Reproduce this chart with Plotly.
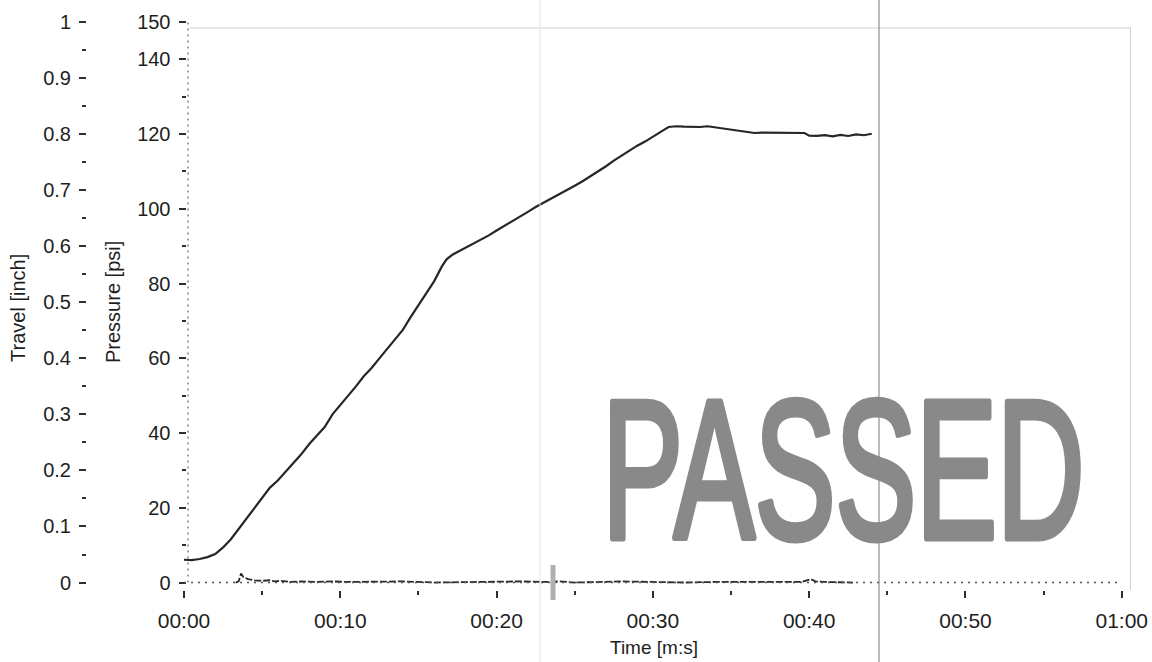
import plotly.graph_objects as go

# ---------------- data ----------------
time_s = [0.0, 0.5, 1.0, 1.5, 2.0, 2.5, 3.0, 3.5, 4.0, 4.5, 5.0, 5.5, 6.0, 6.5, 7.0,
          7.5, 8.0, 8.5, 9.0, 9.5, 10.0, 10.5, 11.0, 11.5, 12.0, 12.5, 13.0, 13.5,
          14.0, 14.5, 15.0, 15.5, 16.0, 16.5, 16.8, 17.2, 17.7, 18.5, 19.0, 19.5,
          20.0, 20.5, 21.0, 21.5, 22.0, 22.5, 23.0, 23.5, 24.0, 24.5, 25.0, 25.5,
          26.0, 26.5, 27.0, 27.5, 28.0, 28.5, 29.0, 29.5, 30.0, 30.5, 31.0, 31.5,
          32.0, 33.0, 33.5, 34.0, 34.5, 35.0, 35.5, 36.0, 36.5, 37.0, 38.0, 39.0,
          39.7, 40.0, 40.5, 41.0, 41.5, 42.0, 42.5, 43.0, 43.5, 44.0]
pressure_psi = [6.1, 6.0, 6.3, 6.8, 7.6, 9.4, 11.6, 14.4, 17.2, 19.8, 22.6, 25.4, 27.3,
                29.6, 31.8, 34.3, 37.0, 39.4, 41.6, 45.0, 47.4, 49.8, 52.5, 55.2, 57.4,
                60.0, 62.5, 64.8, 67.6, 71.0, 74.2, 77.4, 80.6, 84.6, 86.5, 87.8, 88.9,
                90.6, 91.7, 92.9, 94.2, 95.4, 96.6, 98.0, 99.2, 100.5, 101.6, 102.7,
                103.8, 104.9, 106.2, 107.4, 108.7, 109.9, 111.4, 112.9, 114.3, 115.6,
                116.9, 118.0, 119.2, 120.6, 121.9, 122.1, 122.0, 121.9, 122.1, 121.8,
                121.6, 121.4, 120.9, 120.6, 120.3, 120.4, 120.3, 120.4, 120.3, 119.6,
                119.5, 119.7, 119.4, 119.8, 119.5, 119.9, 119.7, 120.1]

travel_time_s = [3.3, 3.5, 3.65, 3.8, 4.1, 4.5, 5.0, 5.5, 5.8, 6.2, 6.8, 7.5, 8.5, 9.5,
                 10.5, 12.0, 14.0, 16.0, 18.0, 20.0, 21.5, 23.0, 24.0, 25.0, 26.5, 28.0,
                 30.0, 32.0, 34.0, 36.0, 38.0, 39.5, 40.1, 40.4, 41.0, 42.0, 42.8]
travel_inch = [0.0, 0.002, 0.016, 0.010, 0.006, 0.004, 0.003, 0.004, 0.002, 0.003, 0.001,
               0.002, 0.001, 0.002, 0.001, 0.001, 0.002, 0.0, 0.001, 0.001, 0.002, 0.001,
               0.002, 0.0, 0.001, 0.002, 0.001, 0.0, 0.001, 0.001, 0.0, 0.001, 0.006,
               0.002, 0.001, 0.001, 0.0]

x_tick_vals = [0, 10, 20, 30, 40, 50, 60]
x_tick_text = ["00:00", "00:10", "00:20", "00:30", "00:40", "00:50", "01:00"]
x_minor_vals = [5, 15, 25, 35, 45, 55]

p_tick_vals = [0, 20, 40, 60, 80, 100, 120, 140, 150]
p_minor_vals = [10, 30, 50, 70, 90, 110, 130]

t_tick_vals = [0, 0.1, 0.2, 0.3, 0.4, 0.5, 0.6, 0.7, 0.8, 0.9, 1.0]
t_tick_text = ["0", "0.1", "0.2", "0.3", "0.4", "0.5", "0.6", "0.7", "0.8", "0.9", "1"]
t_minor_vals = [0.05, 0.15, 0.25, 0.35, 0.45, 0.55, 0.65, 0.75, 0.85, 0.95]

stamp_text = "PASSED"

# ---------------- layout geometry ----------------
W, H = 1152, 662
ML, MR, MT, MB = 0, 21, 22, 72
PW = W - ML - MR
PH = H - MT - MB


def px_x(px):
    return (px - ML) / PW


def px_y(py):
    return (H - MB - py) / PH


P_RANGE = [-2, 150]
T_RANGE = [-2 / 150, 1]

FONT = "Liberation Sans, Arial, Helvetica, sans-serif"
INK = "#1e1e1e"
TICK = "#2e2e2e"
STAMP = "#898989"

fig = go.Figure()
fig.add_trace(go.Scatter(x=time_s, y=pressure_psi, mode="lines", yaxis="y",
                         line=dict(color="#262626", width=2.2), name="Pressure",
                         showlegend=False, hoverinfo="x+y"))
fig.add_trace(go.Scatter(x=travel_time_s, y=travel_inch, mode="lines", yaxis="y2",
                         line=dict(color="#2a2a2a", width=1.8, dash="7px,2px"),
                         name="Travel", showlegend=False, hoverinfo="x+y"))

fig.update_layout(
    width=W, height=H,
    margin=dict(l=ML, r=MR, t=MT, b=MB, autoexpand=False),
    paper_bgcolor="white", plot_bgcolor="white",
    font=dict(family=FONT, color=INK),
    xaxis=dict(domain=[px_x(180), 1], range=[-0.256, 60.59], anchor="y",
               automargin=False,
               tickvals=x_tick_vals, ticktext=x_tick_text,
               ticks="outside", ticklen=7, tickwidth=1.5, tickcolor=TICK,
               minor=dict(ticks="outside", ticklen=4, tickwidth=1.5, tickcolor=TICK,
                          tickvals=x_minor_vals),
               showline=False, showgrid=False, zeroline=False,
               tickfont=dict(size=21, color=INK), ticklabelstandoff=5),
    yaxis=dict(anchor="free", position=px_x(185.5), side="left", range=P_RANGE,
               automargin=False,
               tickvals=p_tick_vals, ticks="outside", ticklen=7, tickwidth=1.5,
               tickcolor=TICK,
               minor=dict(ticks="outside", ticklen=4, tickwidth=1.5, tickcolor=TICK,
                          tickvals=p_minor_vals),
               showline=False, showgrid=False, zeroline=False,
               tickfont=dict(size=20, color=INK), ticklabelstandoff=4),
    yaxis2=dict(anchor="free", overlaying="y", position=px_x(86), side="left",
                automargin=False,
                range=T_RANGE, tickvals=t_tick_vals, ticktext=t_tick_text,
                ticks="outside", ticklen=7, tickwidth=1.5, tickcolor=TICK,
                minor=dict(ticks="outside", ticklen=4, tickwidth=1.5, tickcolor=TICK,
                           tickvals=t_minor_vals),
                showline=False, showgrid=False, zeroline=False,
                tickfont=dict(size=20, color=INK), ticklabelstandoff=4),
)

shapes = [
    # dotted zero line of the time axis
    dict(type="line", xref="x", yref="y", x0=0, x1=60, y0=0, y1=0,
         line=dict(color="#555555", width=1.5, dash="2px,5px")),
    # dotted left border of the plot
    dict(type="line", xref="paper", yref="y", x0=px_x(188), x1=px_x(188), y0=0, y1=150,
         line=dict(color="#666666", width=1.2, dash="2px,4px")),
    # faint frame (top / right)
    dict(type="line", xref="paper", yref="paper", x0=px_x(190), x1=px_x(1131),
         y0=px_y(28), y1=px_y(28), line=dict(color="#cfcfcf", width=1)),
    dict(type="line", xref="paper", yref="paper", x0=px_x(1130.5), x1=px_x(1130.5),
         y0=px_y(28), y1=px_y(590), line=dict(color="#cfcfcf", width=1)),
    # scanner artefacts
    dict(type="line", xref="paper", yref="paper", x0=px_x(879), x1=px_x(879),
         y0=px_y(662), y1=px_y(0), line=dict(color="#777777", width=1)),
    dict(type="line", xref="paper", yref="paper", x0=px_x(540), x1=px_x(540),
         y0=px_y(662), y1=px_y(0), line=dict(color="#e2e2e2", width=1)),
    dict(type="line", xref="paper", yref="paper", x0=px_x(553), x1=px_x(553),
         y0=px_y(600), y1=px_y(565), line=dict(color="#b0b0b0", width=5)),
]
fig.update_layout(shapes=shapes)

annotations = [
    dict(text="Time [m:s]", xref="paper", yref="paper", x=px_x(654), y=px_y(647),
         showarrow=False, font=dict(size=19, color=INK), xanchor="center", yanchor="middle"),
    dict(text="Travel [inch]", xref="paper", yref="paper", x=px_x(18), y=px_y(308),
         showarrow=False, textangle=-90, font=dict(size=20, color=INK),
         xanchor="center", yanchor="middle"),
    dict(text="Pressure [psi]", xref="paper", yref="paper", x=px_x(113), y=px_y(302),
         showarrow=False, textangle=-90, font=dict(size=20, color=INK),
         xanchor="center", yanchor="middle"),
    dict(text=stamp_text, xref="paper", yref="paper", x=px_x(843), y=px_y(470),
         showarrow=False, xanchor="center", yanchor="middle",
         font=dict(size=196, color=STAMP,
                   family="Liberation Sans Narrow, Arial Narrow, Liberation Sans, Arial, sans-serif")),
]
fig.update_layout(annotations=annotations)

post = """
document.body.style.margin = '0';
document.body.style.overflow = 'hidden';
var gd = document.getElementById('{plot_id}');
function squeezeStamp(){
  var els = gd.querySelectorAll('text.annotation-text');
  els.forEach(function(t){
    if (t.textContent === 'PASSED') {
      t.setAttribute('textLength', '482');
      t.setAttribute('lengthAdjust', 'spacingAndGlyphs');
      t.style.stroke = '%s';
      t.style.strokeWidth = '7px';
      t.style.strokeLinejoin = 'round';
    }
  });
}
squeezeStamp();
if (gd.on) { gd.on('plotly_afterplot', squeezeStamp); }
""" % STAMP

fig.write_html("out.html", post_script=post, config={"displayModeBar": False})
